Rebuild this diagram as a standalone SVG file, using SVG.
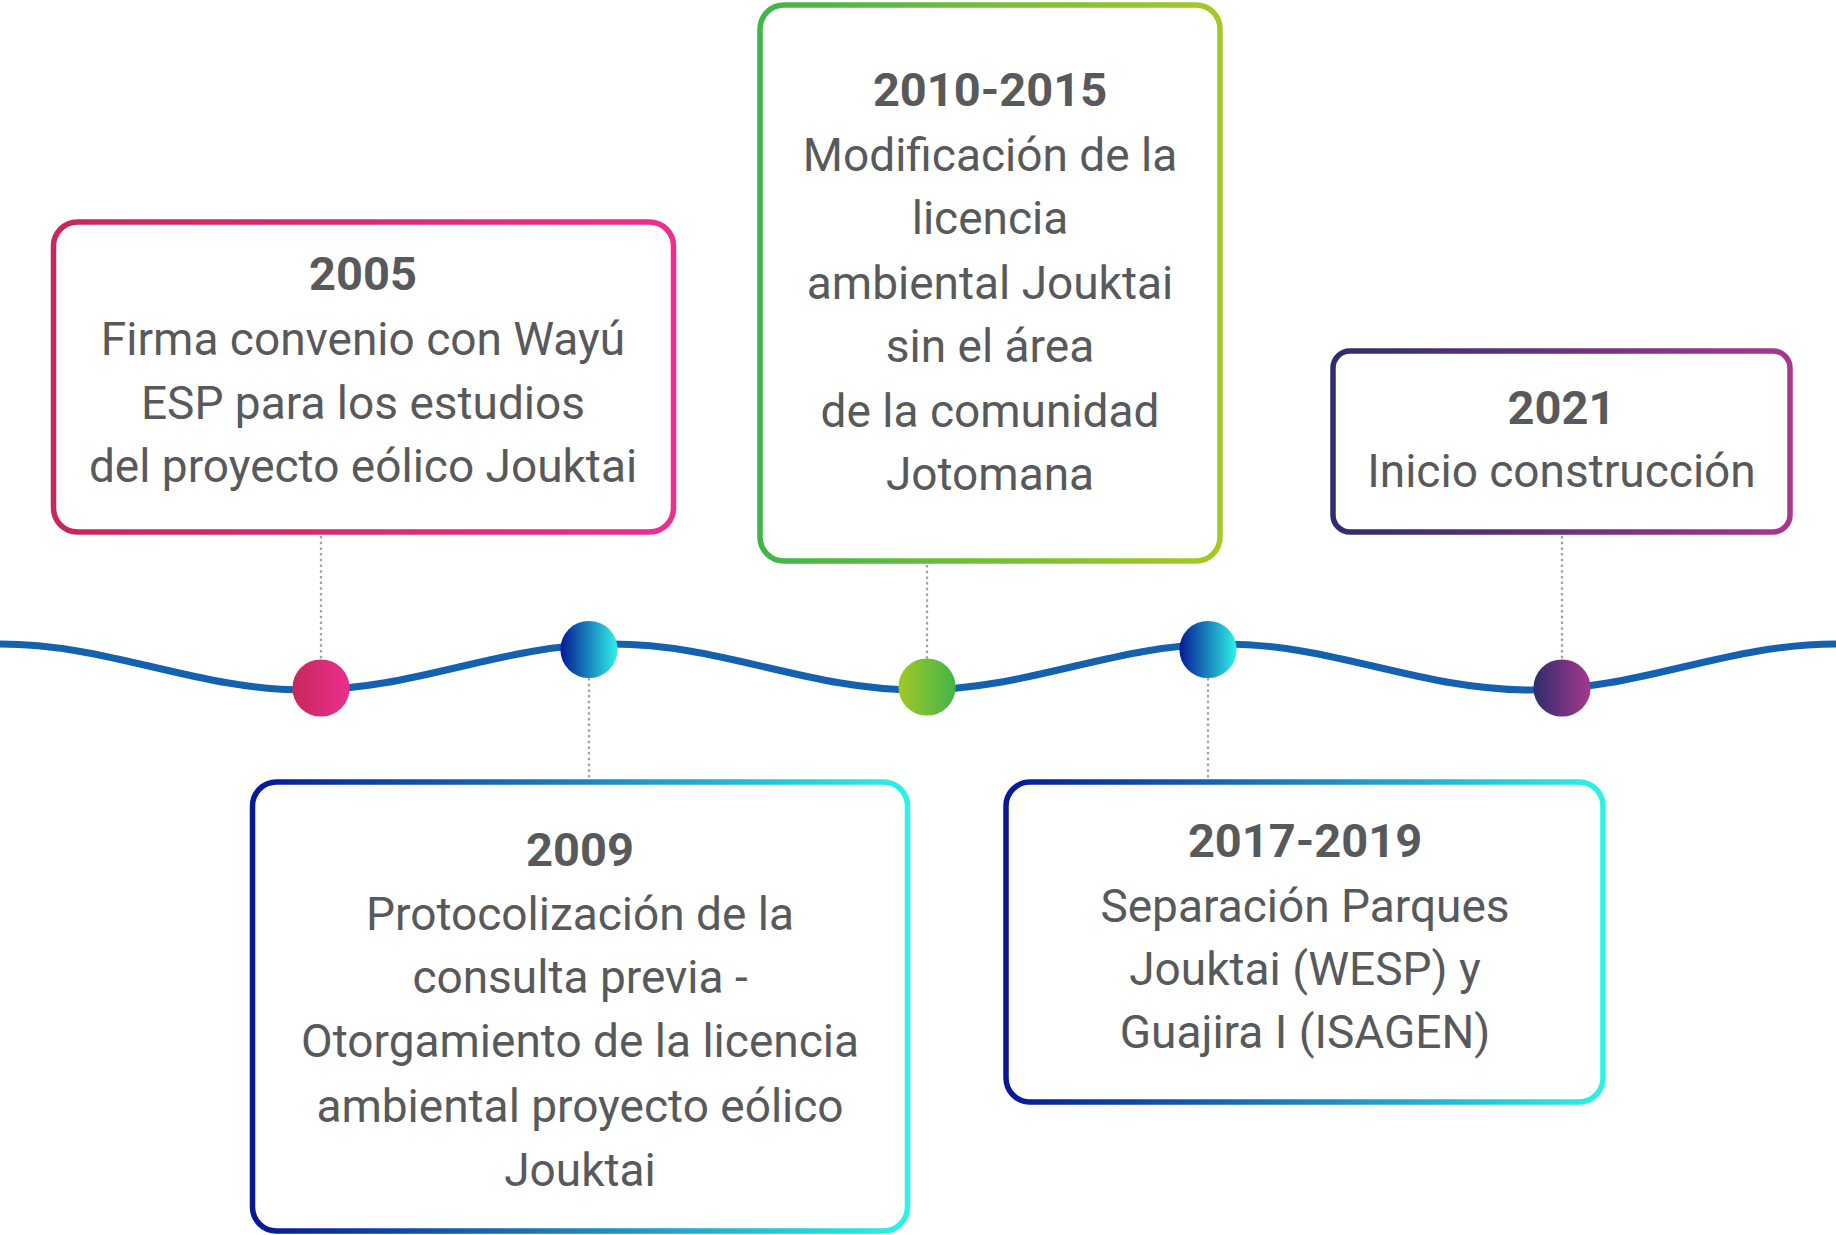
<svg xmlns="http://www.w3.org/2000/svg" width="1836" height="1235" viewBox="0 0 1836 1235">
<defs>
<linearGradient id="gPink" x1="0" y1="0" x2="1" y2="0"><stop offset="0" stop-color="#c5285c"/><stop offset="1" stop-color="#ec2f8e"/></linearGradient>
<linearGradient id="gBlue" x1="0" y1="0" x2="1" y2="0"><stop offset="0" stop-color="#061896"/><stop offset="1" stop-color="#2ef2e6"/></linearGradient>
<linearGradient id="gGreen" x1="0" y1="0" x2="1" y2="0"><stop offset="0" stop-color="#3fb54a"/><stop offset="1" stop-color="#a6c923"/></linearGradient>
<linearGradient id="gGreenR" x1="0" y1="0" x2="1" y2="0"><stop offset="0" stop-color="#a2c826"/><stop offset="1" stop-color="#42b54a"/></linearGradient>
<linearGradient id="gPurple" x1="0" y1="0" x2="1" y2="0"><stop offset="0" stop-color="#2d2e6b"/><stop offset="1" stop-color="#a9368f"/></linearGradient>
<style>
.box{fill:#ffffff;stroke-width:5.5}
.yr{font-family:Roboto,"Liberation Sans",sans-serif;font-weight:700;font-size:47px;fill:#58595b;text-anchor:middle}
.tx{font-family:Roboto,"Liberation Sans",sans-serif;font-weight:400;font-size:46px;fill:#58595b;text-anchor:middle}
.dot{stroke:#a3a3a3;stroke-width:2.3;stroke-dasharray:2.5 3.2;fill:none}
.wave{fill:none;stroke:#1461af;stroke-width:7}
</style>
</defs>
<rect width="1836" height="1235" fill="#ffffff"/>
<g id="connectors">
<line class="dot" x1="321" y1="536" x2="321" y2="660"/>
<line class="dot" x1="589" y1="678" x2="589" y2="779"/>
<line class="dot" x1="927" y1="565" x2="927" y2="659"/>
<line class="dot" x1="1208" y1="678" x2="1208" y2="779"/>
<line class="dot" x1="1562" y1="536" x2="1562" y2="660"/>
</g>
<g id="timeline">
<path class="wave" d="M0,644 C111,644 195,690 306,690 S501,644 612,644 S807,690 918,690 S1113,644 1224,644 S1419,690 1530,690 S1725,644 1836,644"/>
</g>
<g id="dots">
<circle id="dot2005" cx="321" cy="688" r="28.6" fill="url(#gPink)"/>
<circle id="dot2009" cx="589" cy="649.5" r="28.6" fill="url(#gBlue)"/>
<circle id="dot2010" cx="927" cy="687" r="28.6" fill="url(#gGreenR)"/>
<circle id="dot2017" cx="1208" cy="649.5" r="28.6" fill="url(#gBlue)"/>
<circle id="dot2021" cx="1562" cy="688" r="28.6" fill="url(#gPurple)"/>
</g>
<g id="node2005">
<rect class="box" x="53.5" y="222" width="620" height="310" rx="24" stroke="url(#gPink)"/>
<text class="yr" x="363" y="290">2005</text>
<text class="tx" x="363" y="355">Firma convenio con Wayú</text>
<text class="tx" x="363" y="419">ESP para los estudios</text>
<text class="tx" x="363" y="482">del proyecto eólico Jouktai</text>
</g>
<g id="node2009">
<rect class="box" x="252.5" y="782" width="655" height="449" rx="24" stroke="url(#gBlue)"/>
<text class="yr" x="580" y="866">2009</text>
<text class="tx" x="580" y="930">Protocolización de la</text>
<text class="tx" x="580" y="993">consulta previa -</text>
<text class="tx" x="580" y="1057">Otorgamiento de la licencia</text>
<text class="tx" x="580" y="1122">ambiental proyecto eólico</text>
<text class="tx" x="580" y="1186">Jouktai</text>
</g>
<g id="node2010">
<rect class="box" x="760" y="5" width="460" height="556" rx="24" stroke="url(#gGreen)"/>
<text class="yr" x="990" y="106">2010-2015</text>
<text class="tx" x="990" y="171">Modificación de la</text>
<text class="tx" x="990" y="234">licencia</text>
<text class="tx" x="990" y="299">ambiental Jouktai</text>
<text class="tx" x="990" y="362">sin el área</text>
<text class="tx" x="990" y="427">de la comunidad</text>
<text class="tx" x="990" y="490">Jotomana</text>
</g>
<g id="node2017">
<rect class="box" x="1006" y="782" width="597" height="320" rx="24" stroke="url(#gBlue)"/>
<text class="yr" x="1305" y="857">2017-2019</text>
<text class="tx" x="1305" y="922">Separación Parques</text>
<text class="tx" x="1305" y="985">Jouktai (WESP) y</text>
<text class="tx" x="1305" y="1048">Guajira I (ISAGEN)</text>
</g>
<g id="node2021">
<rect class="box" x="1333" y="351" width="457" height="181" rx="17" stroke="url(#gPurple)"/>
<text class="yr" x="1561.5" y="424">2021</text>
<text class="tx" x="1561.5" y="487">Inicio construcción</text>
</g>
</svg>
